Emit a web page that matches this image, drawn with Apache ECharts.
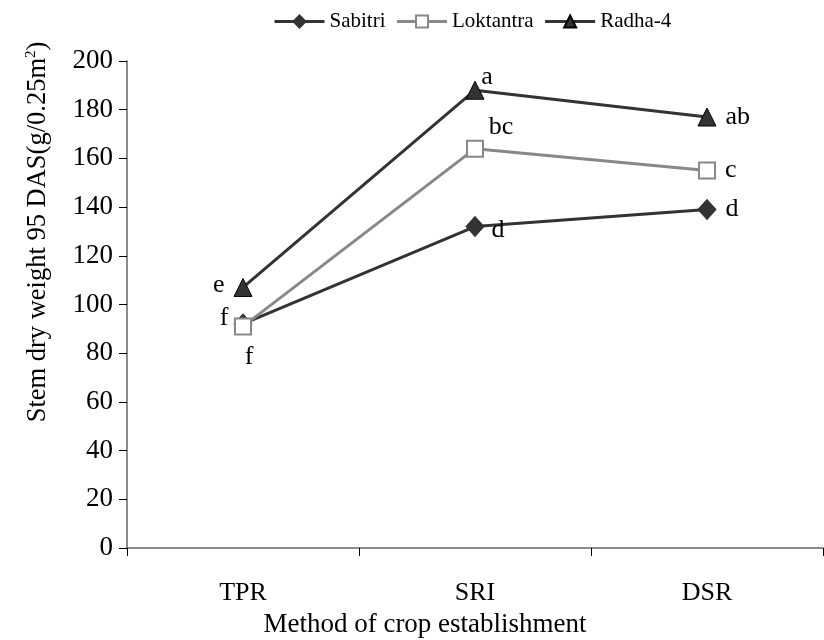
<!DOCTYPE html>
<html>
<head>
<meta charset="utf-8">
<script src="https://cdn.jsdelivr.net/npm/echarts@6/dist/echarts.min.js"></script>
<style>
  html, body { margin: 0; padding: 0; background: #fff; }
  #chart { width: 824px; height: 640px; }
</style>
</head>
<body>
<div id="chart"></div>
<script>
// Establishment methods on the category axis
const methods = ['TPR', 'SRI', 'DSR'];

// Stem dry weight 95 DAS (g/0.25 m²) per variety
const sabitri = [92, 132, 139];
const loktantra = [91, 164, 155];
const radha4 = [107, 188, 177];

// Mean-separation letters shown beside each point
const sabitriLetters = ['f', 'd', 'd'];
const loktantraLetters = ['f', 'bc', 'c'];
const radha4Letters = ['e', 'a', 'ab'];

// Value axis ticks
const yTicks = [0, 20, 40, 60, 80, 100, 120, 140, 160, 180, 200];

const serif = '"Liberation Serif", "Times New Roman", serif';

function withLetters(values, letters, positions, offsets) {
  return values.map((v, i) => ({
    value: v,
    label: {
      show: true,
      formatter: letters[i],
      position: positions[i],
      offset: offsets[i],
      fontFamily: serif,
      fontSize: 26,
      color: '#000'
    }
  }));
}

const chart = echarts.init(document.getElementById('chart'), null, { renderer: 'canvas' });

chart.setOption({
  animation: false,
  backgroundColor: '#fff',
  legend: {
    top: 6,
    left: 268,
    itemWidth: 50,
    itemHeight: 15,
    itemGap: 10,
    lineStyle: { width: 3 },
    textStyle: { fontFamily: serif, fontSize: 21, color: '#000' },
    data: ['Sabitri', 'Loktantra', 'Radha-4']
  },
  grid: { left: 127, right: 1, top: 61, bottom: 92, containLabel: false },
  xAxis: {
    type: 'category',
    data: methods,
    boundaryGap: true,
    axisLine: { lineStyle: { color: '#666', width: 1.5 } },
    axisTick: { show: true, length: 8, lineStyle: { color: '#000' } },
    axisLabel: { fontFamily: serif, fontSize: 26, color: '#000', margin: 32 },
    splitLine: { show: false }
  },
  yAxis: {
    type: 'value',
    min: yTicks[0],
    max: yTicks[yTicks.length - 1],
    interval: yTicks[1] - yTicks[0],
    axisLine: { show: true, lineStyle: { color: '#666', width: 1.5 } },
    axisTick: { show: true, inside: false, length: 8, lineStyle: { color: '#000' } },
    axisLabel: { fontFamily: serif, fontSize: 27, color: '#000', margin: 14 },
    splitLine: { show: false }
  },
  graphic: [
    {
      type: 'text',
      x: 38,
      y: 232,
      rotation: Math.PI / 2,
      style: {
        text: '{t|Stem dry weight 95 DAS(g/0.25m}{s|2}{t|)}',
        align: 'center',
        verticalAlign: 'middle',
        rich: {
          t: { fontFamily: serif, fontSize: 26.5, color: '#000' },
          s: { fontFamily: serif, fontSize: 15, color: '#000', padding: [0, 0, 14, 0] }
        }
      }
    },
    {
      type: 'text',
      x: 425,
      y: 625,
      style: {
        text: 'Method of crop establishment',
        align: 'center',
        verticalAlign: 'middle',
        fontFamily: serif,
        fontSize: 27,
        fill: '#000'
      }
    }
  ],
  series: [
    {
      name: 'Sabitri',
      type: 'line',
      data: withLetters(sabitri, sabitriLetters,
        ['left', 'right', 'right'], [[0, -6], [2, 4], [4, 0]]),
      symbol: 'diamond',
      symbolSize: [18, 20],
      lineStyle: { color: '#333', width: 3 },
      itemStyle: { color: '#333', borderColor: '#333', borderWidth: 1 },
      z: 2
    },
    {
      name: 'Loktantra',
      type: 'line',
      data: withLetters(loktantra, loktantraLetters,
        ['bottom', 'top', 'right'], [[6, 4], [26, 6], [4, 0]]),
      symbol: 'rect',
      symbolSize: 16,
      lineStyle: { color: '#888', width: 3 },
      itemStyle: { color: '#fff', borderColor: '#888', borderWidth: 2 },
      z: 3
    },
    {
      name: 'Radha-4',
      type: 'line',
      data: withLetters(radha4, radha4Letters,
        ['left', 'top', 'right'], [[-4, -2], [12, 14], [4, 0]]),
      symbol: 'triangle',
      symbolSize: 18,
      lineStyle: { color: '#333', width: 3 },
      itemStyle: { color: '#333', borderColor: '#000', borderWidth: 1 },
      z: 4
    }
  ]
});
</script>
</body>
</html>
